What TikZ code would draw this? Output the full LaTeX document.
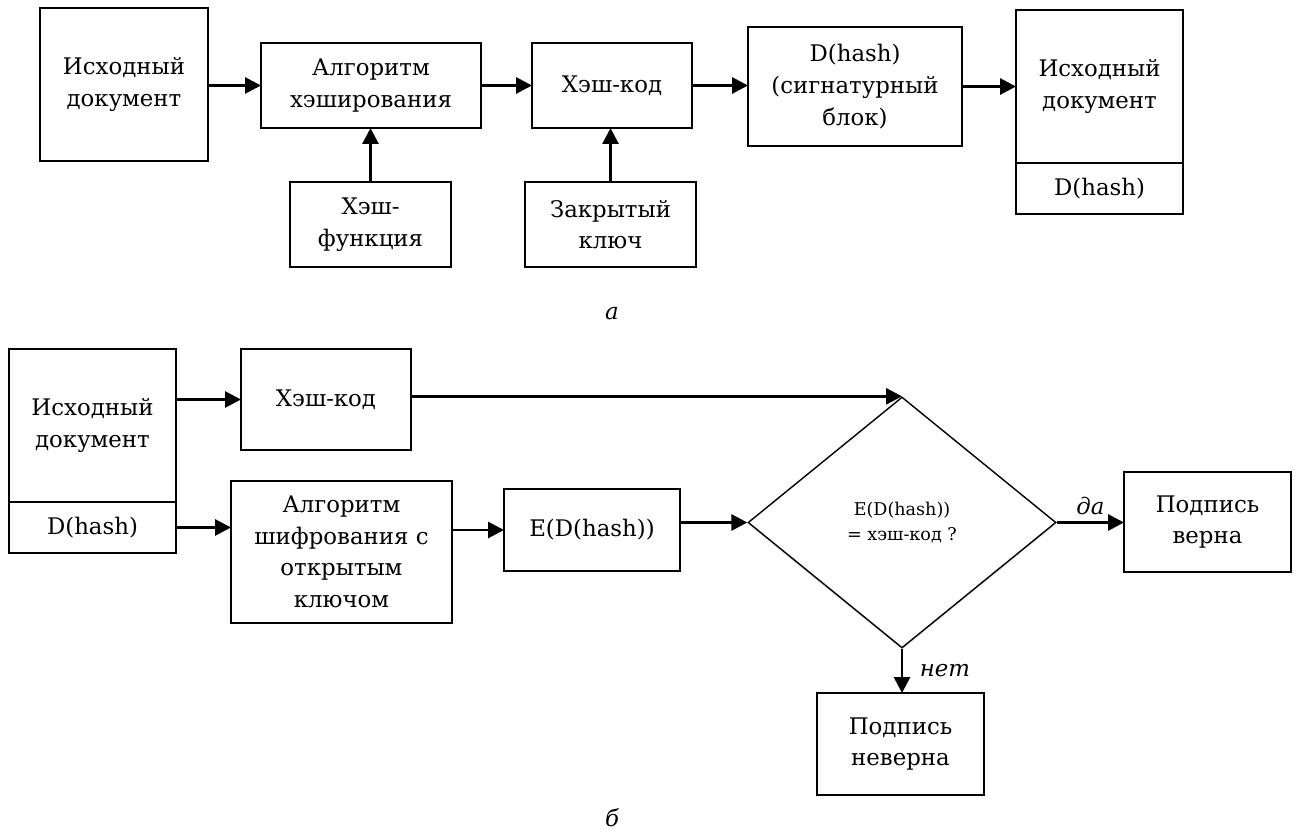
\documentclass[tikz,border=0pt]{standalone}
\usepackage{fontspec}
\setmainfont{DejaVu Serif}
\usepackage{tikz}
\usetikzlibrary{arrows.meta,positioning,shapes.geometric,shadows}

\begin{document}
\begin{tikzpicture}[x=0.02cm,y=-0.02cm,
    blk/.style={draw,line width=0.8pt,align=center,inner sep=2pt,outer sep=0pt,
      font=\fontsize{13}{18}\selectfont},
    arr/.style={-{Triangle[length=3.2mm,width=3.2mm]},line width=1.6pt},
    lbl/.style={font=\fontsize{13}{15}\selectfont\itshape}]
    \useasboundingbox (0,0) rectangle (1297,834);
    % a
    \node[blk,minimum width=3.36cm,minimum height=3.06cm] (docA) at (124,84.5) {Исходный\\документ};
    \node[blk,minimum width=4.4cm,minimum height=1.7cm] (algA) at (371,85.5) {Алгоритм\\хэширования};
    \node[blk,minimum width=3.2cm,minimum height=1.7cm] (hashA) at (612,85.5) {Хэш-код};
    \node[blk,minimum width=3.22cm,minimum height=1.7cm] (hfun) at (370.5,224.5) {Хэш-\\функция};
    \node[blk,minimum width=3.42cm,minimum height=1.7cm] (pkey) at (610.5,224.5) {Закрытый\\ключ};
    \node[blk,minimum width=4.28cm,minimum height=2.38cm] (dsig) at (855,86.5) {D(hash)\\(сигнатурный\\блок)};
    \node[blk,minimum width=3.34cm,minimum height=3.06cm] (docS) at (1099.5,86.5) {Исходный\\документ};
    \node[blk,minimum width=3.34cm,minimum height=1.02cm,below=0pt of docS] (dhS) {D(hash)};
    \draw[arr] (docA.east |- algA.west) -- (algA.west);
    \draw[arr] (algA) -- (hashA);
    \draw[arr] (hfun) -- (hfun |- algA.south);
    \draw[arr] (pkey.north) -- (pkey.north |- hashA.south);
    \draw[arr] (hashA) -- (dsig.west |- hashA);
    \draw[arr] (dsig) -- (docS);
    \node[lbl] (capA) at (612,314) {а};
    % b
    \node[blk,minimum width=3.34cm,minimum height=3.06cm] (docB) at (92.5,425.5) {Исходный\\документ};
    \node[blk,minimum width=3.34cm,minimum height=1.02cm,below=0pt of docB] (dhB) {D(hash)};
    \node[blk,minimum width=3.4cm,minimum height=2.02cm] (hashB) at (326,399.5) {Хэш-код};
    \node[blk,minimum width=4.42cm,minimum height=2.84cm] (algB) at (341.5,552) {Алгоритм\\шифрования с\\открытым\\ключом};
    \node[blk,minimum width=3.52cm,minimum height=1.64cm] (edh) at (592,530) {E(D(hash))};
    \node[draw,fill=white,line width=0.8pt,diamond,inner sep=0pt,minimum width=6.16cm,minimum height=5.02cm,
      drop shadow={opacity=0.2,shadow xshift=0pt,shadow yshift=-1.2pt},
      align=center,font=\fontsize{10}{14}\selectfont] (dec) at (902,522.5) {E(D(hash))\\= хэш-код ?};
    \node[blk,minimum width=3.34cm,minimum height=2cm] (ok) at (1207.5,522) {Подпись\\верна};
    \node[blk,minimum width=3.34cm,minimum height=2.04cm] (bad) at (900.5,744) {Подпись\\неверна};
    \draw[arr] (docB.east |- hashB.west) -- (hashB.west);
    \draw[arr] (dhB) -- (algB.west |- dhB);
    \draw[arr] (algB.east |- edh.west) -- (edh.west);
    \draw[arr] (hashB.east |- dec.north) -- (dec.north);
    \draw[arr] (edh.east |- dec.west) -- (dec.west);
    \draw[arr] (dec.east) -- node[lbl,above] {да} (ok.west |- dec.east);
    \draw[arr] (dec.south) -- node[lbl,right,xshift=6pt] {нет} (dec.south |- bad.north);
    \node[lbl] (capB) at (612,818) {б};
\end{tikzpicture}
\end{document}
